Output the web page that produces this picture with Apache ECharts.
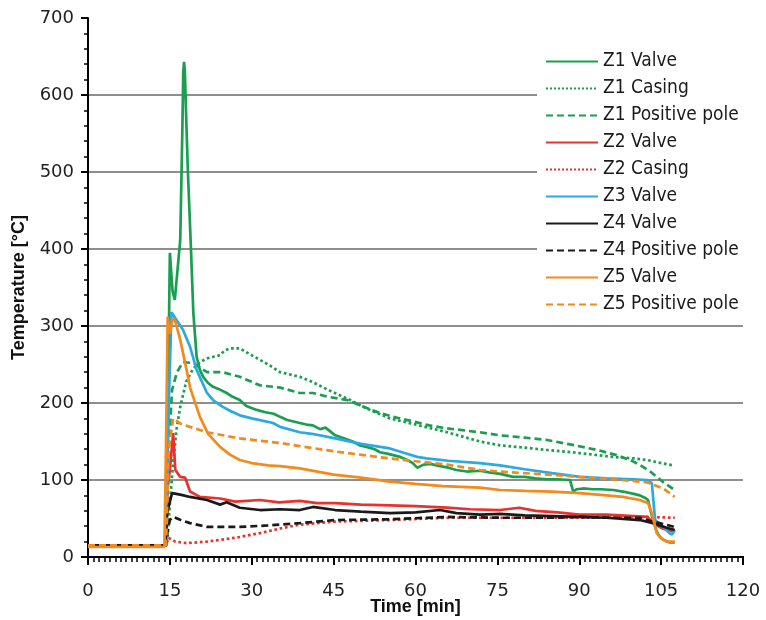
<!DOCTYPE html>
<html>
<head>
<meta charset="utf-8">
<script src="https://cdn.jsdelivr.net/npm/echarts@6/dist/echarts.min.js"></script>
<style>
  html, body { margin: 0; padding: 0; background: #fff; }
  #chart { width: 766px; height: 620px; }
</style>
</head>
<body>
<div id="chart"></div>
<script>
// [time (min), temperature (°C)] readings per sensor
const z1Valve = [[0,15],[14.1,15],[14.5,120],[15.0,395],[15.5,345],[15.9,334],[16.9,412],[17.3,560],[17.45,630],[17.6,643],[17.75,630],[17.95,580],[18.3,500],[18.8,412],[19.3,317],[19.9,260],[20.5,243],[21.1,234],[22.0,226],[22.9,221],[24.0,218],[25.4,213],[26.5,208],[27.8,204],[29.0,196],[30.9,191],[32.5,188],[34.0,186],[35.2,182],[36.5,178],[38.8,174],[40.0,172],[41.2,171],[42.5,166],[43.5,168],[45.3,158],[47.0,154],[48.5,150],[49.8,145],[51.0,143],[52.5,140],[53.5,136],[55.0,134],[57.2,130],[58.5,126],[59.5,122],[60.3,116],[61.5,120],[62.7,121],[64.5,118],[66.0,116],[67.5,113],[69.4,111],[71.8,112],[73.5,110],[75.5,108],[77.9,104],[80.0,104],[82.0,102],[84.0,101],[86.0,101],[88.3,100],[88.9,85],[89.5,88],[90.7,89],[92.5,88],[94.0,88],[96.2,87],[98.0,85],[100.0,82],[101.1,80],[102.0,77],[102.6,74],[103.0,62],[103.5,48],[104.2,33],[104.8,26],[105.5,22],[106.5,19],[107.5,19]];
const z1Casing = [[0,15],[14.3,15],[14.6,26],[15.0,70],[15.6,122],[16.2,165],[16.9,195],[18.0,228],[19.3,245],[20.5,253],[21.8,258],[23.0,260],[24.2,262],[25.0,268],[26.0,271],[27.8,271],[29.5,264],[31.5,256],[33.5,248],[35.2,240],[38.8,234],[41.2,227],[44.0,217],[47.4,206],[51.0,193],[55.3,180],[60.0,172],[65.8,162],[71.8,150],[75.5,145],[80.0,142],[84.1,139],[90.0,135],[96.2,130],[100.0,128],[102.4,126],[105.0,122],[107.2,119]];
const z1Pole = [[0,15],[14.3,15],[14.8,140],[15.4,217],[16.3,240],[17.4,253],[19.3,252],[21.8,240],[24.7,240],[27.8,234],[31.5,223],[35.2,220],[38.8,213],[41.2,213],[44.0,208],[47.4,204],[50.5,195],[53.5,187],[56.5,181],[59.6,176],[62.5,171],[65.8,167],[71.8,162],[75.5,158],[80.0,155],[84.1,152],[88.5,146],[93.3,139],[96.5,133],[99.3,126],[101.0,120],[103.0,111],[105.4,97],[107.5,87]];
const z2Valve = [[0,15],[14.2,15],[14.6,90],[15.0,113],[15.6,161],[16.0,113],[16.9,104],[17.8,103],[18.7,85],[20.5,78],[24.2,76],[27.0,72],[31.5,74],[35.0,71],[38.8,73],[42.0,70],[45.3,70],[50.0,68],[55.3,67],[60.0,66],[65.8,64],[70.0,62],[75.5,61],[79.0,64],[82.0,60],[86.0,58],[90.0,55],[95.0,55],[100.0,53],[102.5,52],[103.5,44],[105.0,38],[106.0,35],[107.3,33]];
const z2Casing = [[0,15],[14.3,15],[14.7,25],[16.0,20],[18.0,18],[21.8,20],[25.0,23],[27.8,26],[31.5,31],[35.2,37],[38.8,42],[45.3,46],[55.3,48],[65.8,51],[75.5,51],[85.0,51],[95.0,51],[102.4,52],[107.5,51]];
const z3Valve = [[0,15],[14.3,15],[14.8,200],[15.3,318],[16.0,310],[17.4,295],[18.7,273],[19.9,243],[21.8,213],[23.0,203],[24.7,195],[26.0,190],[27.8,184],[30.0,180],[33.9,174],[35.2,169],[38.8,162],[41.0,160],[45.3,154],[50.0,147],[55.3,141],[58.0,135],[60.3,130],[62.0,128],[66.0,125],[71.8,122],[75.5,119],[80.0,114],[85.0,109],[90.1,104],[95.0,102],[100.0,101],[102.4,100],[103.3,96],[103.9,48],[105.4,39],[106.5,31],[107.0,29],[107.5,35]];
const z4Valve = [[0,15],[14.2,15],[14.5,57],[15.0,72],[15.4,83],[16.9,81],[18.7,78],[21.8,74],[24.2,68],[25.4,71],[27.8,64],[31.5,61],[35.2,62],[38.8,61],[41.2,65],[45.3,61],[50.0,59],[55.3,57],[60.0,58],[64.5,61],[67.5,57],[71.8,55],[75.5,56],[80.0,54],[90.1,52],[95.0,51],[101.1,48],[103.5,44],[106.0,38],[107.5,35]];
const z4Pole = [[0,15],[14.3,15],[14.6,35],[15.0,48],[15.6,52],[17.0,48],[18.7,44],[21.8,39],[27.8,39],[33.0,41],[38.8,44],[45.3,48],[55.3,49],[65.8,52],[75.5,51],[85.0,51],[90.1,52],[96.0,51],[101.1,51],[103.5,46],[107.5,39]];
const z5Valve = [[0,13],[14.0,13],[14.3,150],[14.6,312],[15.0,290],[15.5,310],[16.0,306],[16.9,282],[18.0,245],[18.7,220],[20.5,182],[22.0,160],[24.2,143],[26.0,133],[27.8,126],[30.0,122],[33.0,119],[35.2,118],[38.8,115],[45.0,107],[50.0,103],[55.3,98],[60.0,95],[65.0,92],[71.8,90],[75.5,87],[80.0,86],[85.0,85],[90.1,83],[95.0,80],[98.0,78],[101.1,74],[102.6,70],[103.3,57],[104.2,31],[105.0,24],[106.0,20],[107.5,20]];
const z5Pole = [[0,15],[14.3,15],[14.8,140],[15.6,180],[17.0,173],[18.7,169],[21.8,162],[27.8,154],[35.2,148],[38.8,144],[45.3,137],[55.3,128],[65.8,120],[71.8,113],[75.5,111],[84.1,107],[90.0,104],[96.2,101],[102.4,97],[105.4,89],[107.5,78]];

const GREEN = '#1a9e4f', RED = '#e8322e', BLUE = '#2aaae2', BLACK = '#1a1a1a', ORANGE = '#f28a1e';
const DASH = [7, 4];

// use a condensed face for the legend if one is installed
function hasFont(name) {
  const ctx = document.createElement('canvas').getContext('2d');
  const s = 'Z1 Positive pole 0123';
  for (const base of ['monospace', 'serif']) {
    ctx.font = '40px ' + base;
    const w0 = ctx.measureText(s).width;
    ctx.font = "40px '" + name + "', " + base;
    if (ctx.measureText(s).width !== w0) return true;
  }
  return false;
}
let legendFont = "'Liberation Sans', sans-serif", legendSize = 18;
for (const f of ['Liberation Sans Narrow', 'Arial Narrow', 'DejaVu Sans Condensed']) {
  if (hasFont(f)) { legendFont = "'" + f + "', sans-serif"; legendSize = f === 'DejaVu Sans Condensed' ? 19 : 21; break; }
}

function line(name, data, color, type) {
  return {
    name: name, type: 'line', data: data, symbol: 'none',
    lineStyle: { color: color, width: 2.7, type: type },
    itemStyle: { color: color },
    animation: false
  };
}

const seriesList = [
  line('Z1 Valve', z1Valve, GREEN, 'solid'),
  line('Z1 Casing', z1Casing, GREEN, 'dotted'),
  line('Z1 Positive pole', z1Pole, GREEN, DASH),
  line('Z2 Valve', z2Valve, RED, 'solid'),
  line('Z2 Casing', z2Casing, RED, 'dotted'),
  line('Z3 Valve', z3Valve, BLUE, 'solid'),
  line('Z4 Valve', z4Valve, BLACK, 'solid'),
  line('Z4 Positive pole', z4Pole, BLACK, DASH),
  line('Z5 Valve', z5Valve, ORANGE, 'solid'),
  line('Z5 Positive pole', z5Pole, ORANGE, DASH)
];

const chart = echarts.init(document.getElementById('chart'));
chart.setOption({
  animation: false,
  grid: { left: 88, right: 23, top: 18, bottom: 63, outerBoundsMode: 'none', containLabel: false },
  legend: {
    orient: 'vertical', left: 537, top: 47,
    padding: [4, 8, 4, 8],
    backgroundColor: '#fff',
    itemWidth: 52, itemHeight: 14, itemGap: 6,
    itemStyle: { opacity: 0 },
    textStyle: { fontFamily: legendFont, fontSize: legendSize, lineHeight: 21, color: '#1a1a1a' },
    inactiveColor: '#ccc'
  },
  xAxis: [{
    type: 'value', min: 0, max: 120, interval: 15,
    name: 'Time [min]', nameLocation: 'middle', nameGap: 41, nameMoveOverlap: false,
    nameTextStyle: { fontFamily: "'Liberation Sans', sans-serif", fontWeight: 'bold', fontSize: 18, color: '#111' },
    axisLine: { show: true, onZero: false, lineStyle: { color: '#000', width: 2 } },
    axisTick: { show: true, length: 8, lineStyle: { color: '#000', width: 2 } },
    minorTick: { show: true, splitNumber: 15, length: 5, lineStyle: { color: '#000', width: 1.5 } },
    axisLabel: { margin: 25, fontFamily: "'DejaVu Sans', sans-serif", fontSize: 18, color: '#222' },
    splitLine: { show: false }
  }, {
    type: 'value', min: 0, max: 120, position: 'top',
    axisLine: { show: true, lineStyle: { color: '#000', width: 2 } },
    axisTick: { show: false }, axisLabel: { show: false }, splitLine: { show: false }
  }],
  yAxis: {
    type: 'value', min: 0, max: 700, interval: 100,
    name: 'Temperature [°C]', nameLocation: 'middle', nameGap: 60, nameRotate: 90, nameMoveOverlap: false,
    nameTextStyle: { fontFamily: "'Liberation Sans', sans-serif", fontWeight: 'bold', fontSize: 18, color: '#111' },
    axisLine: { show: true, lineStyle: { color: '#000', width: 2 } },
    axisTick: { show: true, length: 7, lineStyle: { color: '#000', width: 2 } },
    minorTick: { show: true, splitNumber: 5, length: 4, lineStyle: { color: '#000', width: 1.5 } },
    axisLabel: { margin: 14, fontFamily: "'DejaVu Sans', sans-serif", fontSize: 18, color: '#222' },
    splitLine: {
      show: true,
      lineStyle: { color: '#8e8e8e', width: 2 },
      showMinLine: false, showMaxLine: false
    }
  },
  series: seriesList
});
</script>
</body>
</html>
